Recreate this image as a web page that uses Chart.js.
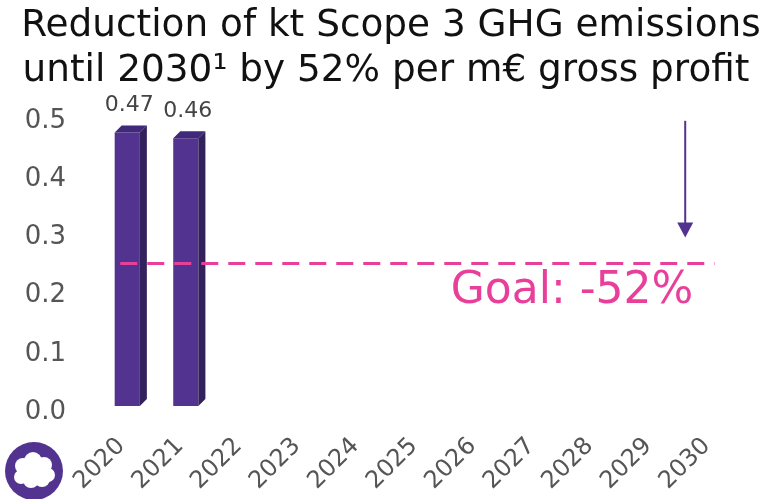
<!DOCTYPE html>
<html>
<head>
<meta charset="utf-8">
<script src="https://cdn.jsdelivr.net/npm/chart.js@4.4.0/dist/chart.umd.min.js"></script>
<style>
  html, body { margin: 0; padding: 0; background: #fff; }
  #wrap { width: 766px; height: 499px; }
</style>
</head>
<body>
<div id="wrap"><canvas id="chart" width="766" height="499"></canvas></div>
<script>
// --- data ---
const years = ['2020', '2021', '2022', '2023', '2024', '2025', '2026', '2027', '2028', '2029', '2030'];
const intensity = [0.47, 0.46, null, null, null, null, null, null, null, null, null];
const goalValue = 0.245;
const goalLabel = 'Goal: -52%';
const titleLines = ['Reduction of kt Scope 3 GHG emissions', 'until 2030\u00b9 by 52% per m\u20ac gross profit'];

const PURPLE = '#523490';
const PURPLE_SIDE = '#33215c';
const PURPLE_TOP = '#40297a';
const PINK = '#e8409a';
const FONT = "'DejaVu Sans', Verdana, sans-serif";

// 3D-ish bars: side + top faces taken from the bar elements
const bar3d = {
    id: 'bar3d',
    afterDatasetsDraw(chart) {
        const ctx = chart.ctx;
        const d = 7;
        chart.getDatasetMeta(0).data.forEach((bar, i) => {
            if (intensity[i] == null) return;
            const l = bar.x - bar.width / 2, r = bar.x + bar.width / 2;
            const t = bar.y, b = bar.base;
            ctx.save();
            ctx.fillStyle = PURPLE_SIDE;
            ctx.beginPath();
            ctx.moveTo(r, t); ctx.lineTo(r + d, t - d); ctx.lineTo(r + d, b - d); ctx.lineTo(r, b);
            ctx.closePath(); ctx.fill();
            ctx.fillStyle = PURPLE_TOP;
            ctx.beginPath();
            ctx.moveTo(l, t); ctx.lineTo(l + d, t - d); ctx.lineTo(r + d, t - d); ctx.lineTo(r, t);
            ctx.closePath(); ctx.fill();
            ctx.restore();
        });
    }
};

// title, goal line, goal text, arrow, value labels, logo
const extras = {
    id: 'extras',
    afterDraw(chart) {
        const ctx = chart.ctx;
        const x = chart.scales.x, y = chart.scales.y;
        const gy = y.getPixelForValue(goalValue);
        ctx.save();

        // title (drawn by hand so it can run wider than the plot padding)
        ctx.fillStyle = '#111';
        ctx.font = '37.4px ' + FONT;
        ctx.textAlign = 'center';
        ctx.textBaseline = 'middle';
        ctx.fillText(titleLines[0], 391, 26);
        ctx.fillText(titleLines[1], 386, 71);

        // value labels
        ctx.fillStyle = '#444';
        ctx.font = '22px ' + FONT;
        ctx.textAlign = 'center';
        ctx.textBaseline = 'bottom';
        chart.getDatasetMeta(0).data.forEach((bar, i) => {
            if (intensity[i] == null) return;
            ctx.fillText(intensity[i].toFixed(2), bar.x + 2, bar.y - 16);
        });

        // dashed goal line
        ctx.strokeStyle = PINK;
        ctx.lineWidth = 3;
        ctx.setLineDash([17, 10]);
        ctx.beginPath();
        ctx.moveTo(x.getPixelForValue(0) - 7, gy);
        ctx.lineTo(x.getPixelForValue(10) + 2, gy);
        ctx.stroke();
        ctx.setLineDash([]);

        ctx.fillStyle = PINK;
        ctx.font = '44px ' + FONT;
        ctx.textAlign = 'right';
        ctx.textBaseline = 'middle';
        ctx.fillText(goalLabel, x.getPixelForValue(9.67), gy + 28);

        // arrow
        const ax = x.getPixelForValue(9.53);
        const ay0 = y.getPixelForValue(0.49);
        const ay1 = gy - 26;
        ctx.strokeStyle = PURPLE;
        ctx.fillStyle = PURPLE;
        ctx.lineWidth = 2;
        ctx.beginPath();
        ctx.moveTo(ax, ay0);
        ctx.lineTo(ax, ay1 - 10);
        ctx.stroke();
        ctx.beginPath();
        ctx.moveTo(ax - 8, ay1 - 15);
        ctx.lineTo(ax + 8, ay1 - 15);
        ctx.lineTo(ax, ay1);
        ctx.closePath();
        ctx.fill();

        // logo
        const cx = 34, cy = 471;
        ctx.fillStyle = PURPLE;
        ctx.beginPath();
        ctx.arc(cx, cy, 29, 0, Math.PI * 2);
        ctx.fill();
        ctx.fillStyle = '#fff';
        [[-11, -5, 8], [-1, -10, 9], [10, -6, 8], [14, 4, 7], [-13, 6, 7], [-3, 9, 8], [8, 8, 8], [0, 0, 11]].forEach(c => {
            ctx.beginPath();
            ctx.arc(cx + c[0], cy + c[1], c[2], 0, Math.PI * 2);
            ctx.fill();
        });
        ctx.restore();
    }
};

new Chart(document.getElementById('chart'), {
    type: 'bar',
    data: {
        labels: years,
        datasets: [{
            data: intensity,
            backgroundColor: PURPLE,
            borderWidth: 0,
            barPercentage: 0.43,
            categoryPercentage: 1
        }]
    },
    options: {
        responsive: false,
        animation: false,
        layout: { padding: { left: 24, right: 24, top: 115, bottom: 0 } },
        plugins: {
            legend: { display: false },
            tooltip: { enabled: false },
            title: { display: false }
        },
        scales: {
            x: {
                grid: { display: false },
                border: { display: false },
                ticks: {
                    color: '#555',
                    font: { family: FONT, size: 24 },
                    maxRotation: 45,
                    minRotation: 45,
                    padding: 18,
                    labelOffset: -6
                },
                // keep the plot area wide: rotated labels may hang into the margins
                afterFit(scale) {
                    scale.paddingLeft = 0;
                    scale.paddingRight = 0;
                    scale.height = 93;
                }
            },
            y: {
                min: 0,
                max: 0.5,
                grid: { display: false, drawTicks: false },
                border: { display: false },
                ticks: {
                    stepSize: 0.1,
                    color: '#555',
                    font: { family: FONT, size: 26 },
                    padding: 32,
                    labelOffset: 6,
                    callback: v => v.toFixed(1)
                },
                afterFit(scale) {
                    scale.width = 74;
                }
            }
        }
    },
    plugins: [bar3d, extras]
});
</script>
</body>
</html>
